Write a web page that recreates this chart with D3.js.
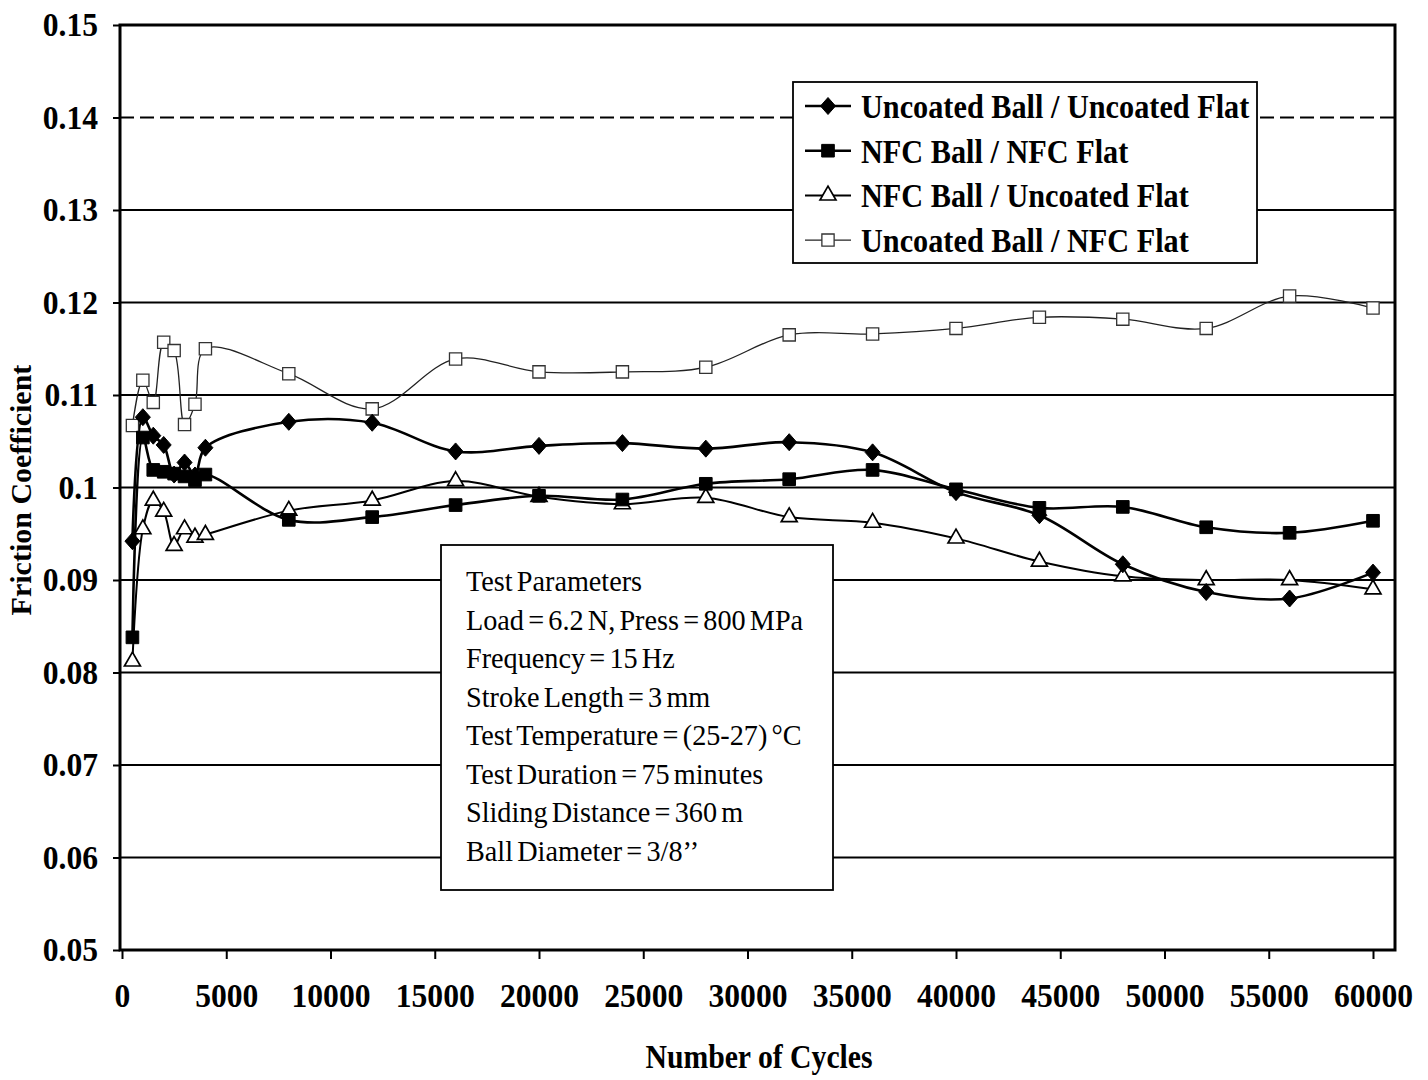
<!DOCTYPE html>
<html>
<head>
<meta charset="utf-8">
<script src="https://cdn.jsdelivr.net/npm/d3@7"></script>
<style>
    body { margin: 0; background: #fff; }
    svg { display: block; }
    text { font-family: "Liberation Serif", "Times New Roman", serif; fill: #000; }
</style>
</head>
<body>
<svg id="chart" width="1428" height="1080"></svg>
<script>
// cycles at which friction was measured
const cycles = [500, 1000, 1500, 2000, 2500, 3000, 3500, 4000, 8000, 12000, 16000, 20000,
    24000, 28000, 32000, 36000, 40000, 44000, 48000, 52000, 56000, 60000];

// friction coefficient for each pair
const uncoatedUncoated = [0.0942, 0.1076, 0.1056, 0.1046, 0.1014, 0.1027, 0.1013, 0.1043, 0.1071, 0.1070, 0.1039, 0.1045,
    0.1048, 0.1042, 0.1049, 0.1038, 0.0995, 0.0970, 0.0917, 0.0887, 0.0880, 0.0908];
const nfcNfc = [0.0838, 0.1054, 0.1019, 0.1017, 0.1015, 0.1012, 0.1008, 0.1014, 0.0965, 0.0968, 0.0981, 0.0991,
    0.0987, 0.1004, 0.1009, 0.1019, 0.0998, 0.0978, 0.0979, 0.0957, 0.0951, 0.0964];
const nfcUncoated = [0.0812, 0.0955, 0.0986, 0.0974, 0.0937, 0.0955, 0.0946, 0.0949, 0.0975, 0.0986, 0.1007, 0.0990,
    0.0982, 0.0989, 0.0968, 0.0962, 0.0945, 0.0920, 0.0904, 0.0900, 0.0900, 0.0890];
const uncoatedNfc = [0.1067, 0.1116, 0.1092, 0.1157, 0.1148, 0.1068, 0.1090, 0.1150, 0.1123, 0.1085, 0.1139, 0.1125,
    0.1125, 0.1130, 0.1165, 0.1166, 0.1172, 0.1184, 0.1182, 0.1172, 0.1207, 0.1194];

const seriesNames = ["Uncoated Ball / Uncoated Flat", "NFC Ball / NFC Flat", "NFC Ball / Uncoated Flat", "Uncoated Ball / NFC Flat"];
const seriesValues = [uncoatedUncoated, nfcNfc, nfcUncoated, uncoatedNfc];

const yTicks = [0.05, 0.06, 0.07, 0.08, 0.09, 0.10, 0.11, 0.12, 0.13, 0.14, 0.15];
const yTickLabels = ["0.05", "0.06", "0.07", "0.08", "0.09", "0.1", "0.11", "0.12", "0.13", "0.14", "0.15"];
const xTicks = [0, 5000, 10000, 15000, 20000, 25000, 30000, 35000, 40000, 45000, 50000, 55000, 60000];

const testParameters = [
    "Test Parameters",
    "Load = 6.2 N, Press = 800 MPa",
    "Frequency = 15 Hz",
    "Stroke Length = 3 mm",
    "Test Temperature = (25-27) °C",
    "Test Duration = 75 minutes",
    "Sliding Distance = 360 m",
    "Ball Diameter = 3/8’’"
];

const plotLeft = 120, plotRight = 1395, plotTop = 25, plotBottom = 950;

const svg = d3.select("#chart");

const xScale = d3.scaleLinear().domain([0, 60000]).range([122, 1373]);
const yScale = d3.scaleLinear().domain([0.05, 0.15]).range([plotBottom, plotTop]);

// the scanned text is narrow and tall, so squeeze glyphs horizontally
function squeeze(sel, factor) {
    sel.each(function () {
        const w = this.getComputedTextLength();
        d3.select(this)
            .attr("textLength", w * factor)
            .attr("lengthAdjust", "spacingAndGlyphs");
    });
}

// marker styles per series
const diamondPath = "M0,-8.5L7.5,0L0,8.5L-7.5,0Z";
const markerStyles = [
    { path: diamondPath, fill: "#000", stroke: "#000", sw: 1 },
    { path: d3.symbol(d3.symbolSquare, 160)(), fill: "#000", stroke: "#000", sw: 1 },
    { path: d3.symbol(d3.symbolTriangle, 110)(), fill: "#fff", stroke: "#000", sw: 1.7 },
    { path: d3.symbol(d3.symbolSquare, 150)(), fill: "#fff", stroke: "#333", sw: 1.3 }
];
const lineStyles = [
    { stroke: "#000", sw: 2.6 },
    { stroke: "#000", sw: 2.6 },
    { stroke: "#000", sw: 2.0 },
    { stroke: "#222", sw: 1.3 }
];

// gridlines
svg.append("g")
    .selectAll("line")
    .data(yTicks.slice(1, -1))
    .join("line")
    .attr("x1", plotLeft)
    .attr("x2", plotRight)
    .attr("y1", d => yScale(d))
    .attr("y2", d => yScale(d))
    .style("stroke", "#000")
    .style("stroke-width", 1.8)
    .style("stroke-dasharray", d => Math.abs(d - 0.14) < 1e-9 ? "14,6" : null);

// axes
const yAxis = svg.append("g")
    .attr("transform", `translate(${plotLeft},0)`)
    .call(d3.axisLeft(yScale).tickValues(yTicks).tickSize(7).tickPadding(15)
        .tickFormat((d, i) => yTickLabels[i]));
const xAxis = svg.append("g")
    .attr("transform", `translate(0,${plotBottom})`)
    .call(d3.axisBottom(xScale).tickValues(xTicks).tickSize(9).tickPadding(24)
        .tickFormat(d => String(d)));
[yAxis, xAxis].forEach(function (ax) {
    ax.select(".domain").remove();
    ax.selectAll(".tick line").style("stroke", "#000").style("stroke-width", 2);
    ax.selectAll(".tick text")
        .style("font-family", "'Liberation Serif', serif")
        .style("font-size", "34px")
        .style("font-weight", "bold")
        .call(squeeze, 0.93);
});
xAxis.selectAll(".tick text").attr("dy", "0.71em");

// plot frame
svg.append("rect")
    .attr("x", plotLeft)
    .attr("y", plotTop)
    .attr("width", plotRight - plotLeft)
    .attr("height", plotBottom - plotTop)
    .style("fill", "none")
    .style("stroke", "#000")
    .style("stroke-width", 3);

// series lines and markers
const line = d3.line()
    .x((d, i) => xScale(cycles[i]))
    .y(d => yScale(d))
    .curve(d3.curveCatmullRom.alpha(0.5));

const drawOrder = [3, 2, 1, 0];
drawOrder.forEach(function (s) {
    svg.append("path")
        .datum(seriesValues[s])
        .attr("d", line)
        .style("fill", "none")
        .style("stroke", lineStyles[s].stroke)
        .style("stroke-width", lineStyles[s].sw);
});
drawOrder.forEach(function (s) {
    svg.append("g")
        .selectAll("path")
        .data(seriesValues[s])
        .join("path")
        .attr("transform", (d, i) => `translate(${xScale(cycles[i])},${yScale(d)})`)
        .attr("d", markerStyles[s].path)
        .style("fill", markerStyles[s].fill)
        .style("stroke", markerStyles[s].stroke)
        .style("stroke-width", markerStyles[s].sw);
});

// axis titles
svg.append("text")
    .attr("transform", "translate(31,490) rotate(-90)")
    .attr("text-anchor", "middle")
    .style("font-size", "30px")
    .style("font-weight", "bold")
    .text("Friction Coefficient");
svg.append("text")
    .attr("x", 759)
    .attr("y", 1068)
    .attr("text-anchor", "middle")
    .style("font-size", "33px")
    .style("font-weight", "bold")
    .text("Number of Cycles")
    .call(squeeze, 0.9);

// legend
const legend = svg.append("g").attr("transform", "translate(793,82)");
legend.append("rect")
    .attr("width", 464)
    .attr("height", 181)
    .style("fill", "#fff")
    .style("stroke", "#000")
    .style("stroke-width", 1.8);
seriesNames.forEach(function (name, s) {
    const y = 24 + s * 44.7;
    legend.append("line")
        .attr("x1", 12).attr("x2", 58)
        .attr("y1", y).attr("y2", y)
        .style("stroke", lineStyles[s].stroke)
        .style("stroke-width", lineStyles[s].sw);
    legend.append("path")
        .attr("transform", `translate(35,${y})`)
        .attr("d", markerStyles[s].path)
        .style("fill", markerStyles[s].fill)
        .style("stroke", markerStyles[s].stroke)
        .style("stroke-width", markerStyles[s].sw);
    legend.append("text")
        .attr("x", 68)
        .attr("y", y)
        .attr("dy", "0.35em")
        .style("font-size", "34px")
        .style("font-weight", "bold")
        .text(name)
        .call(squeeze, 0.89);
});

// test parameters box
const box = svg.append("g").attr("transform", "translate(441,545)");
box.append("rect")
    .attr("width", 392)
    .attr("height", 345)
    .style("fill", "#fff")
    .style("stroke", "#000")
    .style("stroke-width", 1.8);
box.selectAll("text")
    .data(testParameters)
    .join("text")
    .attr("x", 25)
    .attr("y", (d, i) => 46 + i * 38.5)
    .style("font-size", "30px")
    .style("word-spacing", "-3px")
    .text(d => d)
    .call(squeeze, 0.94);
</script>
</body>
</html>
